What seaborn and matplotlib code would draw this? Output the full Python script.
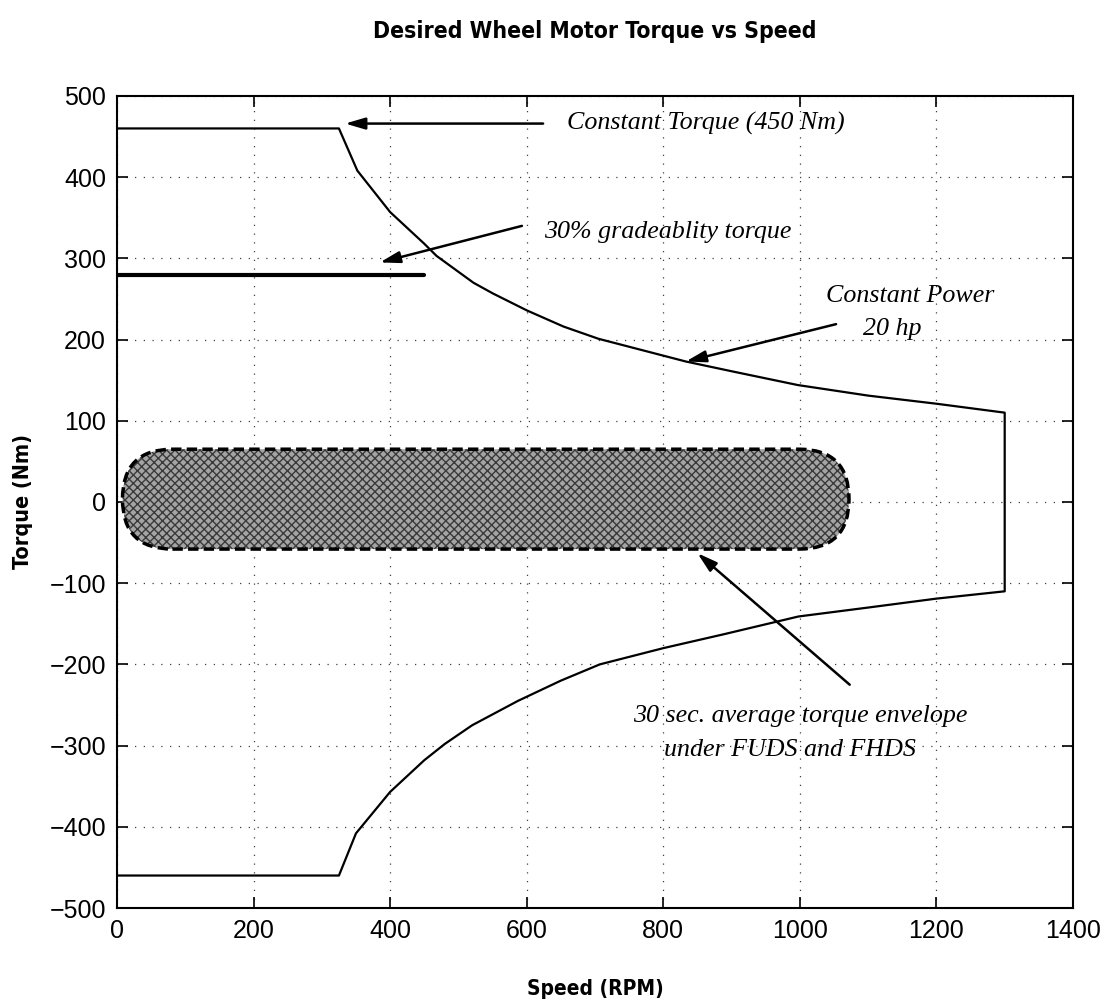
import pandas as pd
import matplotlib.pyplot as plt
import seaborn as sns
from matplotlib.patches import FancyBboxPatch

# torque envelope (speed in RPM, torque in Nm)
upper_speed = [0, 325, 352, 400, 450, 468, 522, 550, 600, 654, 705, 833, 900, 997, 1100, 1150, 1200, 1300]
upper_torque = [460, 460, 408, 357, 318, 303, 270, 257, 236, 216, 201, 173, 161, 144, 131, 126, 121, 110]
lower_speed = [0, 325, 350, 400, 450, 480, 520, 587, 650, 707, 800, 888, 998, 1100, 1200, 1300]
lower_torque = [-460, -460, -408, -357, -318, -298, -275, -245, -220, -200, -180, -163, -141, -130, -119, -110]

grade_speed = [0, 450]
grade_torque = [280, 280]

# 30 s average envelope box (speed range, torque range)
env_speed = [8, 1072]
env_torque = [-58, 65]

x_ticks = [0, 200, 400, 600, 800, 1000, 1200, 1400]
y_ticks = [-500, -400, -300, -200, -100, 0, 100, 200, 300, 400, 500]

path = pd.DataFrame({
    "speed": upper_speed + lower_speed[::-1],
    "torque": upper_torque + lower_torque[::-1],
})

sns.set_style("ticks")
plt.rcParams['font.family'] = ['Liberation Sans', 'DejaVu Sans']
for key in ['text.color', 'axes.labelcolor', 'xtick.color', 'ytick.color']:
    plt.rcParams[key] = 'black'

fig = plt.figure(figsize=(11.08, 10.08), dpi=100)
ax = fig.add_axes([0.1056, 0.0992, 0.8628, 0.8056])

sns.lineplot(data=path, x="speed", y="torque", sort=False, estimator=None,
             color="black", lw=1.6, ax=ax)
sns.lineplot(x=grade_speed, y=grade_torque, color="black", lw=3, ax=ax)

ax.set_xlim(0, 1400)
ax.set_ylim(-500, 500)

# stadium shaped envelope, corners corrected for the axes aspect
bbox = ax.get_window_extent()
aspect = (1000 / bbox.height) / (1400 / bbox.width)
h = env_torque[1] - env_torque[0]
r = h / (2 * aspect)
shape = dict(boxstyle=f"round,pad=0,rounding_size={r}", mutation_aspect=aspect)
ax.add_patch(FancyBboxPatch((env_speed[0], env_torque[0]), env_speed[1] - env_speed[0], h,
                            facecolor="#a4a4a4", edgecolor="#3a3a3a", hatch="xxxx",
                            lw=0, zorder=3, **shape))
ax.add_patch(FancyBboxPatch((env_speed[0], env_torque[0]), env_speed[1] - env_speed[0], h,
                            facecolor="none", edgecolor="black", lw=2.5,
                            linestyle=(0, (3, 1.5)), zorder=4, **shape))

ax.set_xticks(x_ticks)
ax.set_yticks(y_ticks)
ax.tick_params(direction="in", length=8, width=1.2, top=True, right=True,
               labelsize=18, pad=8)
ax.grid(True, color="0.25", linestyle=(0, (1, 6)), lw=0.9)
for s in ax.spines.values():
    s.set_linewidth(1.5)
    s.set_color("black")

narrow = dict(family=['Liberation Sans Narrow', 'DejaVu Sans'], fontstretch="condensed",
              fontweight="bold")
ax.set_title("Desired Wheel Motor Torque vs Speed", fontsize=16.5, pad=42, **narrow)
ax.set_xlabel("Speed (RPM)", fontsize=15, labelpad=26, **narrow)
ax.set_ylabel("Torque (Nm)", fontsize=15.5, labelpad=12, **narrow)

note = dict(family=['Liberation Serif', 'DejaVu Serif'], style="italic", fontsize=18.7)
arrow = dict(arrowstyle="-|>,head_length=1.2,head_width=0.35", color="black", lw=1.8,
             shrinkA=0, shrinkB=0)

ax.annotate("", xy=(334, 466), xytext=(624, 466), arrowprops=arrow)
ax.text(659, 466, "Constant Torque (450 Nm)", va="center", ha="left", **note)

ax.annotate("", xy=(385, 295), xytext=(593, 340), arrowprops=arrow)
ax.text(625, 333, "30% gradeablity torque", va="center", ha="left", **note)

ax.annotate("", xy=(833, 173), xytext=(1053, 219), arrowprops=arrow)
ax.text(1161, 254, "Constant Power", va="center", ha="center", **note)
ax.text(1135, 213, "20 hp", va="center", ha="center", **note)

ax.annotate("", xy=(850, -63), xytext=(1073, -225), arrowprops=arrow)
ax.text(1000, -263, "30 sec. average torque envelope", va="center", ha="center", **note)
ax.text(986, -306, "under FUDS and FHDS", va="center", ha="center", **note)

plt.savefig("out.png", dpi=100)
